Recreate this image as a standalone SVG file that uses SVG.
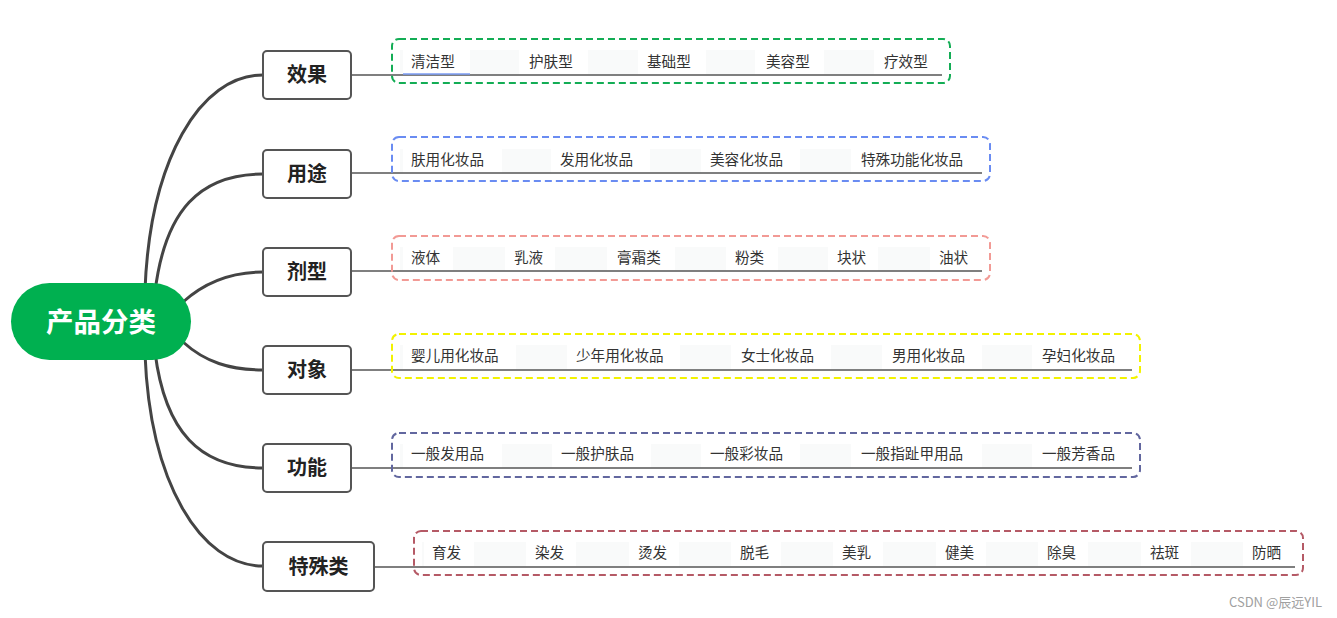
<svg xmlns="http://www.w3.org/2000/svg" width="1337" height="618" viewBox="0 0 1337 618">
<style>
.cat rect{fill:#fff;stroke:#555;stroke-width:2}
.cat text{font-family:"Noto Sans CJK SC",sans-serif;font-size:20px;font-weight:bold;fill:#222;text-anchor:middle}
.item{font-family:"Noto Sans CJK SC",sans-serif;font-size:14.6px;fill:#333}
.grp{fill:none;stroke-width:2;stroke-dasharray:7 4}
.rowbg{fill:#f9fafa}
.cell{fill:#fff}
.edge{fill:none;stroke:#444;stroke-width:3}
.hl{fill:none;stroke:#555;stroke-width:1.3}
</style>
<rect width="1337" height="618" fill="#fff"/>
<g id="connectors">
<path class="edge" d="M145,290 C150,160 200,75 263,75"/>
<path class="edge" d="M155,292 C165,210 200,174 263,174"/>
<path class="edge" d="M183,302 C205,282 230,272 263,272"/>
<path class="edge" d="M183,342 C205,362 230,370 263,370"/>
<path class="edge" d="M155,352 C165,432 200,468 263,468"/>
<path class="edge" d="M145,354 C150,482 200,566 263,566"/>
</g>
<g id="root">
<rect x="11" y="283" width="180" height="77" rx="38.5" fill="#00b050"/>
<text x="101" y="332" font-family="'Noto Sans CJK SC',sans-serif" font-size="27.5" font-weight="bold" fill="#fff" text-anchor="middle">产品分类</text>
</g>
<g id="cat-xiaoguo" class="cat"><rect x="263" y="51" width="88" height="48" rx="4"/><text x="307" y="82">效果</text></g>
<g id="cat-yongtu" class="cat"><rect x="263" y="150" width="88" height="48" rx="4"/><text x="307" y="181">用途</text></g>
<g id="cat-jixing" class="cat"><rect x="263" y="248" width="88" height="48" rx="4"/><text x="307" y="279">剂型</text></g>
<g id="cat-duixiang" class="cat"><rect x="263" y="346" width="88" height="48" rx="4"/><text x="307" y="377">对象</text></g>
<g id="cat-gongneng" class="cat"><rect x="263" y="444" width="88" height="48" rx="4"/><text x="307" y="475">功能</text></g>
<g id="cat-teshu" class="cat"><rect x="263" y="542" width="111" height="49" rx="4"/><text x="318.5" y="574">特殊类</text></g>

<g id="grp-xiaoguo">
<rect class="rowbg" x="400" y="50" width="542" height="24"/>
<rect class="cell" x="403" y="50" width="67" height="24"/><rect class="cell" x="519" y="50" width="69" height="24"/><rect class="cell" x="638" y="50" width="68" height="24"/><rect class="cell" x="755" y="50" width="69" height="24"/><rect class="cell" x="874" y="50" width="68" height="24"/>
<line class="hl" x1="351" y1="75" x2="942" y2="75"/>
<line x1="403" y1="74" x2="470" y2="74" stroke="#7b9cf5" stroke-width="1.3"/>
<text class="item" y="67"><tspan x="411">清洁型</tspan><tspan x="529">护肤型</tspan><tspan x="647">基础型</tspan><tspan x="766">美容型</tspan><tspan x="884">疗效型</tspan></text>
<rect class="grp" x="392" y="39" width="558" height="44" rx="7" stroke="#13ad55"/>
</g>

<g id="grp-yongtu">
<rect class="rowbg" x="400" y="149" width="582" height="24"/>
<rect class="cell" x="403" y="149" width="99" height="24"/><rect class="cell" x="551" y="149" width="99" height="24"/><rect class="cell" x="701" y="149" width="99" height="24"/><rect class="cell" x="851" y="149" width="131" height="24"/>
<line class="hl" x1="351" y1="173" x2="982" y2="173"/>
<text class="item" y="165"><tspan x="411">肤用化妆品</tspan><tspan x="560">发用化妆品</tspan><tspan x="710">美容化妆品</tspan><tspan x="861">特殊功能化妆品</tspan></text>
<rect class="grp" x="392" y="137" width="598" height="44" rx="7" stroke="#6a8cf2"/>
</g>

<g id="grp-jixing">
<rect class="rowbg" x="400" y="247" width="582" height="24"/>
<rect class="cell" x="403" y="247" width="50" height="24"/><rect class="cell" x="505" y="247" width="50" height="24"/><rect class="cell" x="607" y="247" width="68" height="24"/><rect class="cell" x="726" y="247" width="52" height="24"/><rect class="cell" x="828" y="247" width="50" height="24"/><rect class="cell" x="930" y="247" width="52" height="24"/>
<line class="hl" x1="351" y1="271" x2="982" y2="271"/>
<text class="item" y="263"><tspan x="411">液体</tspan><tspan x="514">乳液</tspan><tspan x="617">膏霜类</tspan><tspan x="735">粉类</tspan><tspan x="837">块状</tspan><tspan x="939">油状</tspan></text>
<rect class="grp" x="392" y="236" width="598" height="44" rx="7" stroke="#f29a95"/>
</g>

<g id="grp-duixiang">
<rect class="rowbg" x="400" y="345" width="732" height="24"/>
<rect class="cell" x="403" y="345" width="113" height="24"/><rect class="cell" x="567" y="345" width="113" height="24"/><rect class="cell" x="731" y="345" width="100" height="24"/><rect class="cell" x="882" y="345" width="100" height="24"/><rect class="cell" x="1032" y="345" width="100" height="24"/>
<line class="hl" x1="351" y1="370" x2="1132" y2="370"/>
<text class="item" y="361"><tspan x="411">婴儿用化妆品</tspan><tspan x="576">少年用化妆品</tspan><tspan x="741">女士化妆品</tspan><tspan x="892">男用化妆品</tspan><tspan x="1042">孕妇化妆品</tspan></text>
<rect class="grp" x="392" y="334" width="748" height="44" rx="7" stroke="#f2f200"/>
</g>

<g id="grp-gongneng">
<rect class="rowbg" x="400" y="444" width="732" height="24"/>
<rect class="cell" x="403" y="444" width="99" height="24"/><rect class="cell" x="552" y="444" width="99" height="24"/><rect class="cell" x="701" y="444" width="99" height="24"/><rect class="cell" x="851" y="444" width="131" height="24"/><rect class="cell" x="1032" y="444" width="100" height="24"/>
<line class="hl" x1="351" y1="468" x2="1132" y2="468"/>
<text class="item" y="459"><tspan x="411">一般发用品</tspan><tspan x="561">一般护肤品</tspan><tspan x="710">一般彩妆品</tspan><tspan x="861">一般指趾甲用品</tspan><tspan x="1042">一般芳香品</tspan></text>
<rect class="grp" x="392" y="433" width="748" height="44" rx="7" stroke="#62679f"/>
</g>

<g id="grp-teshu">
<rect class="rowbg" x="422" y="542" width="873" height="24"/>
<rect class="cell" x="424" y="542" width="50" height="24"/><rect class="cell" x="526" y="542" width="50" height="24"/><rect class="cell" x="629" y="542" width="50" height="24"/><rect class="cell" x="731" y="542" width="50" height="24"/><rect class="cell" x="833" y="542" width="50" height="24"/><rect class="cell" x="936" y="542" width="50" height="24"/><rect class="cell" x="1038" y="542" width="50" height="24"/><rect class="cell" x="1141" y="542" width="50" height="24"/><rect class="cell" x="1243" y="542" width="52" height="24"/>
<line class="hl" x1="374" y1="567" x2="1295" y2="567"/>
<text class="item" y="558"><tspan x="432">育发</tspan><tspan x="535">染发</tspan><tspan x="638">烫发</tspan><tspan x="740">脱毛</tspan><tspan x="842">美乳</tspan><tspan x="945">健美</tspan><tspan x="1047">除臭</tspan><tspan x="1150">祛斑</tspan><tspan x="1252">防晒</tspan></text>
<rect class="grp" x="414" y="531" width="889" height="44" rx="7" stroke="#b55a66"/>
</g>

<text x="1322" y="607" font-family="'Noto Sans CJK SC',sans-serif" font-size="13" fill="#a0a0a0" text-anchor="end">CSDN @辰远YIL</text>
</svg>
